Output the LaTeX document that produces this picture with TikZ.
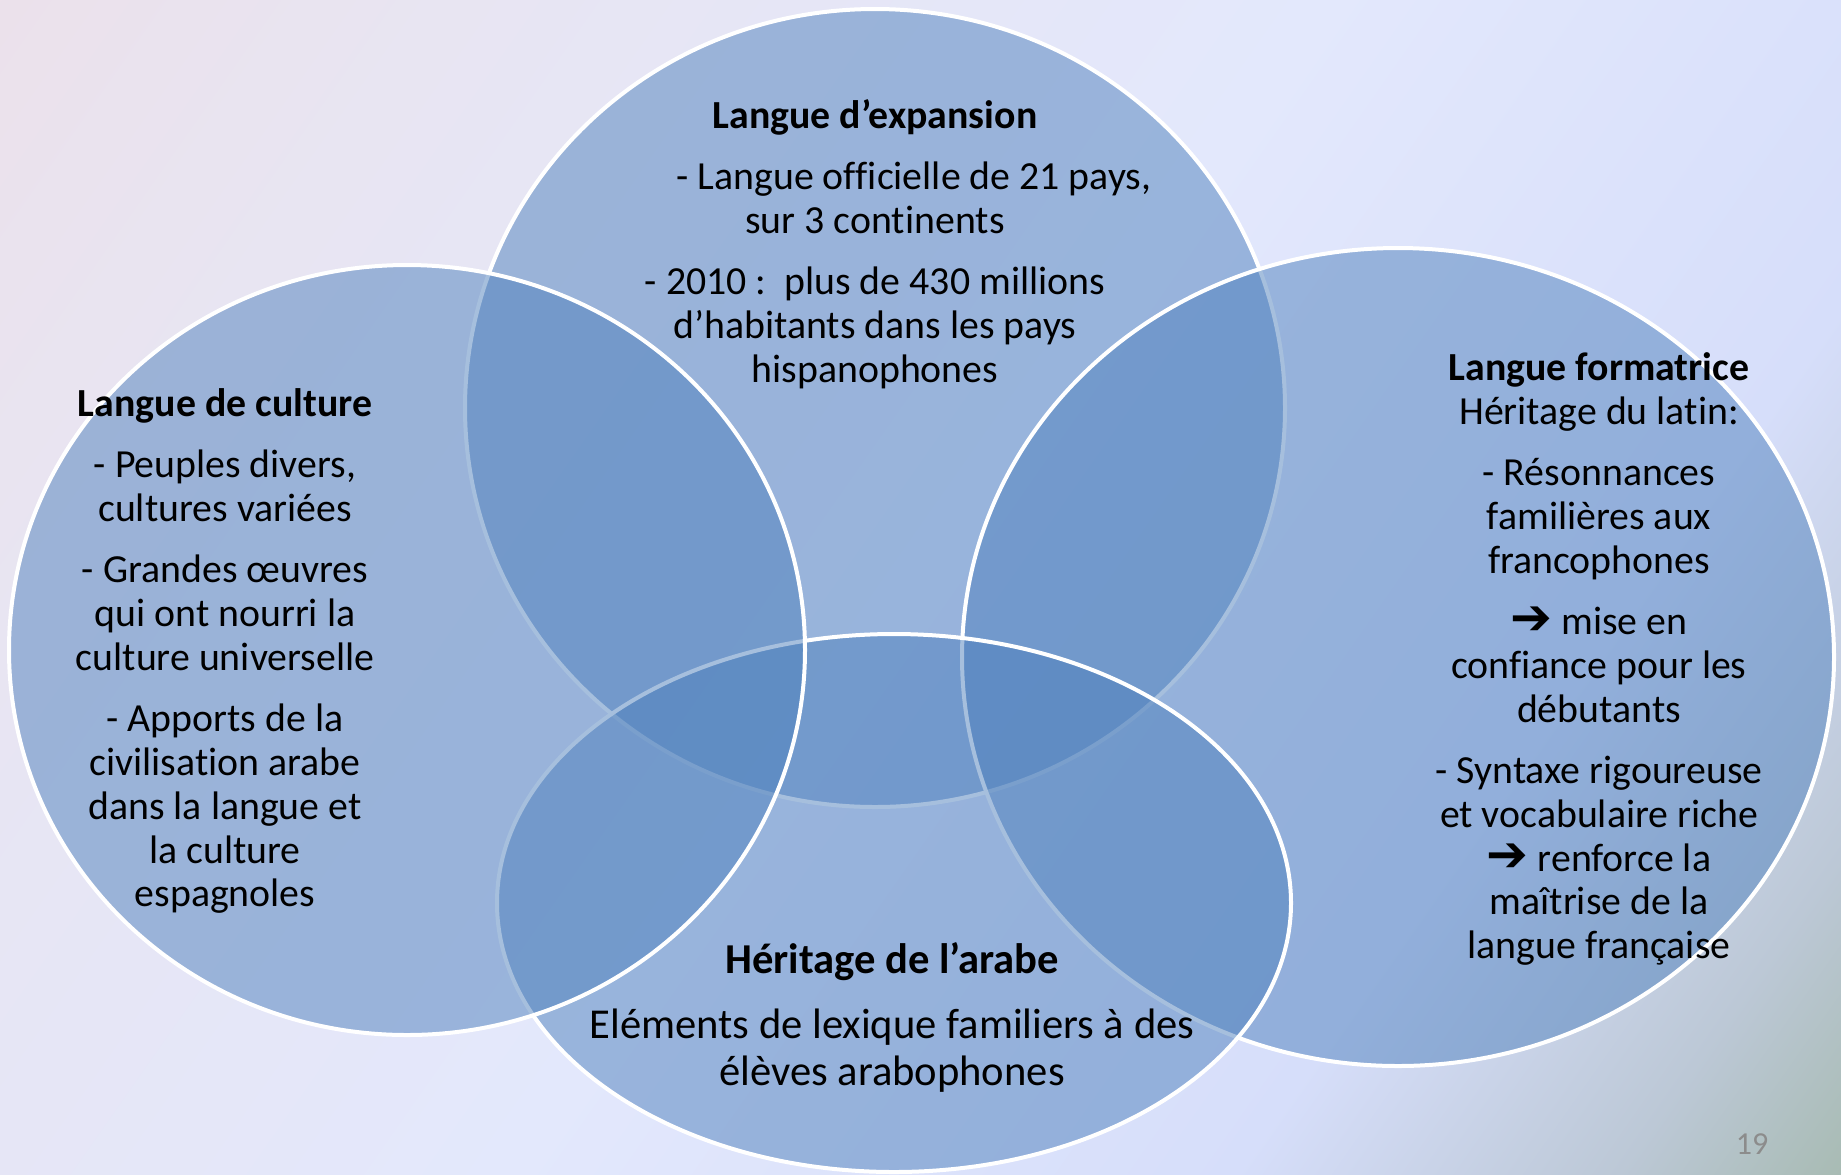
\documentclass[tikz,border=0pt]{standalone}
\usepackage{fontspec}
\setmainfont[Ligatures=NoCommon]{Carlito}
\newfontfamily\dejavu{DejaVu Sans}
\usepackage{tikz}
\RequirePackage{xcolor}
\definecolor{office-blue}{HTML}{4F81BD}
\definecolor{bg-pink}{HTML}{F0DCE2}
\definecolor{bg-lavender}{HTML}{E8E5F2}
\definecolor{bg-pale-blue}{HTML}{E3E8FC}
\definecolor{bg-light-blue}{HTML}{D6DEFA}
\definecolor{bg-grey-blue}{HTML}{BCC8D6}
\definecolor{bg-sage}{HTML}{9AB29B}
\definecolor{page-grey}{HTML}{8C8C8C}
\pgfdeclarehorizontalshading{slide-bg}{100bp}{color(0bp)=(bg-pink); color(27bp)=(bg-lavender); color(50bp)=(bg-pale-blue); color(69bp)=(bg-light-blue); color(79bp)=(bg-grey-blue); color(89bp)=(bg-sage); color(100bp)=(bg-sage)}
\newcommand{\fleche}{{\dejavu\bfseries\fontsize{25}{21.9}\selectfont\char"2794}}

\begin{document}
\begin{tikzpicture}[x=0.5pt, y=-0.5pt,
    venn/.style={draw=white, line width=2pt, fill=office-blue, fill opacity=0.5},
    bloc/.style={align=center, text=black, inner sep=0pt, font=\fontsize{19.9}{21.9}\selectfont},
    gros-bloc/.style={bloc, font=\fontsize{21.3}{23.3}\selectfont}]
    \useasboundingbox (0, 0) rectangle (1841, 1174);
    \shade[shading=slide-bg, shading angle=-35] (0, 0) rectangle (1841, 1174);
    % cercles (ordre : haut, droite, bas, gauche)
    \draw[venn] (875, 408) ellipse (410 and 399);
    \draw[venn] (1398, 657) ellipse (436 and 409);
    \draw[venn] (894, 903) ellipse (397 and 269);
    \draw[venn] (407, 650) ellipse (398 and 385);
    % textes
    \node[bloc] (expansion) at (875, 244) {\textbf{Langue d’expansion}\\[8.8pt]
      \hspace*{39pt}- Langue officielle de 21 pays,\\
      sur 3 continents\\[8.8pt]
      - 2010 :\ \ plus de 430 millions\\
      d’habitants dans les pays\\
      hispanophones};
    \node[bloc] (culture) at (225, 651) {\textbf{Langue de culture}\\[8.8pt]
      - Peuples divers,\\ cultures variées\\[8.8pt]
      - Grandes œuvres\\ qui ont nourri la\\ culture universelle\\[8.8pt]
      - Apports de la\\ civilisation arabe\\ dans la langue et\\ la culture\\ espagnoles};
    \node[bloc] (formatrice) at (1599, 659) {\textbf{Langue formatrice}\\
      Héritage du latin:\\[8.8pt]
      - Résonnances\\ familières aux\\ francophones\\[8.8pt]
      \fleche{} mise en\\ confiance pour les\\ débutants\\[8.8pt]
      - Syntaxe rigoureuse\\ et vocabulaire riche\\ \fleche{} renforce la\\ maîtrise de la\\ langue française};
    \node[gros-bloc] (arabe) at (892, 1017) {\textbf{Héritage de l’arabe}\\[9.4pt]
      Eléments de lexique familiers à des\\ élèves arabophones};
    \node[text=page-grey, font=\fontsize{16}{19}\selectfont] (page) at (1752, 1144) {19};
\end{tikzpicture}
\end{document}
